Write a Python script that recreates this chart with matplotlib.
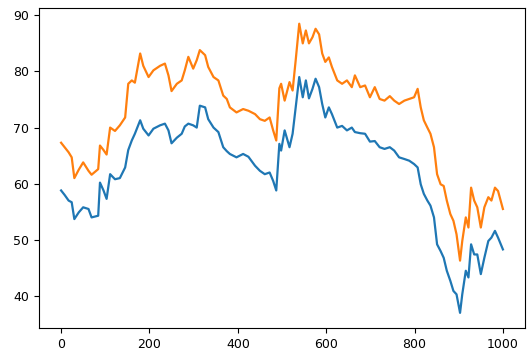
import matplotlib
matplotlib.use("Agg")
import matplotlib.pyplot as plt

# values
x = [0, 8, 17, 24, 30, 40, 50, 62, 69, 84,
     88, 96, 103, 111, 122, 133, 145, 152, 160, 167,
     179, 186, 198, 209, 224, 235, 243, 250, 262, 273,
     280, 288, 299, 307, 314, 326, 333, 345, 356, 367,
     375, 382, 397, 412, 424, 439, 450, 461, 472, 480,
     487, 494, 498, 506, 517, 524, 531, 539, 547, 554,
     561, 569, 576, 584, 591, 598, 606, 613, 625, 636,
     647, 658, 665, 677, 688, 699, 710, 721, 732, 744,
     754, 765, 777, 788, 799, 807, 814, 821, 829, 836,
     844, 851, 859, 866, 873, 881, 888, 895, 903, 908,
     916, 922, 928, 935, 942, 950, 958, 967, 974, 982,
     989, 1000]

lower = [58.8, 58.0, 57.0, 56.7, 53.7, 54.9, 55.8, 55.5, 54.0, 54.3,
         60.2, 58.8, 57.3, 61.7, 60.8, 61.0, 62.9, 66.0, 67.7, 68.9,
         71.3, 69.8, 68.6, 69.8, 70.4, 70.7, 69.5, 67.2, 68.2, 68.9,
         70.2, 70.7, 70.4, 70.0, 73.9, 73.6, 71.5, 70.0, 69.2, 66.5,
         65.8, 65.3, 64.7, 65.3, 64.8, 63.2, 62.3, 61.7, 62.0, 60.5,
         58.8, 67.1, 65.9, 69.5, 66.5, 68.9, 73.6, 79.0, 75.4, 78.4,
         75.2, 76.9, 78.7, 77.2, 74.2, 71.8, 73.6, 72.4, 70.0, 70.3,
         69.5, 70.0, 69.2, 69.0, 68.9, 67.5, 67.6, 66.5, 66.2, 66.5,
         65.9, 64.7, 64.4, 64.1, 63.5, 62.9, 59.9, 58.2, 57.0, 56.1,
         54.0, 49.2, 48.0, 46.8, 44.5, 42.7, 40.9, 40.3, 37.0, 40.3,
         44.5, 43.3, 49.2, 47.4, 47.4, 43.9, 46.8, 49.8, 50.4, 51.6,
         50.4, 48.3]

upper = [67.3, 66.5, 65.6, 64.7, 61.0, 62.5, 63.8, 62.3, 61.6, 62.6,
         66.8, 66.0, 65.2, 70.0, 69.4, 70.4, 71.8, 77.8, 78.4, 78.0,
         83.2, 81.0, 79.0, 80.2, 81.0, 81.4, 79.3, 76.5, 77.8, 78.4,
         80.2, 82.6, 80.5, 82.0, 83.8, 82.9, 80.8, 79.0, 78.4, 75.7,
         75.1, 73.6, 72.7, 73.3, 73.0, 72.4, 71.5, 71.2, 71.8, 69.5,
         67.7, 77.0, 77.8, 74.8, 78.1, 76.6, 82.0, 88.5, 85.0, 87.3,
         85.0, 86.1, 87.6, 86.6, 83.2, 81.7, 82.5, 80.8, 78.4, 77.8,
         78.4, 77.2, 79.3, 77.2, 77.5, 75.4, 77.2, 75.1, 74.8, 75.6,
         74.8, 74.2, 74.8, 75.1, 75.4, 76.9, 73.6, 71.3, 70.0, 68.9,
         66.5, 61.7, 59.9, 59.6, 57.0, 54.6, 53.4, 51.0, 46.3, 49.8,
         54.0, 52.2, 59.3, 57.0, 55.8, 52.2, 55.8, 57.6, 57.0, 59.3,
         58.7, 55.5]

fig = plt.figure(figsize=(5.29, 3.54), dpi=100)
ax = fig.add_axes([39 / 529, 26 / 354, 486 / 529, 320 / 354])

ax.plot(x, lower, color='#1f77b4', linewidth=1.6)
ax.plot(x, upper, color='#ff7f0e', linewidth=1.6)

ax.set_xlim(-50, 1050)
ax.set_ylim(34.3, 91.3)
ax.set_xticks([0, 200, 400, 600, 800, 1000])
ax.set_yticks([40, 50, 60, 70, 80, 90])
ax.tick_params(labelsize=9)

fig.savefig('out.png', dpi=100, facecolor='white')
